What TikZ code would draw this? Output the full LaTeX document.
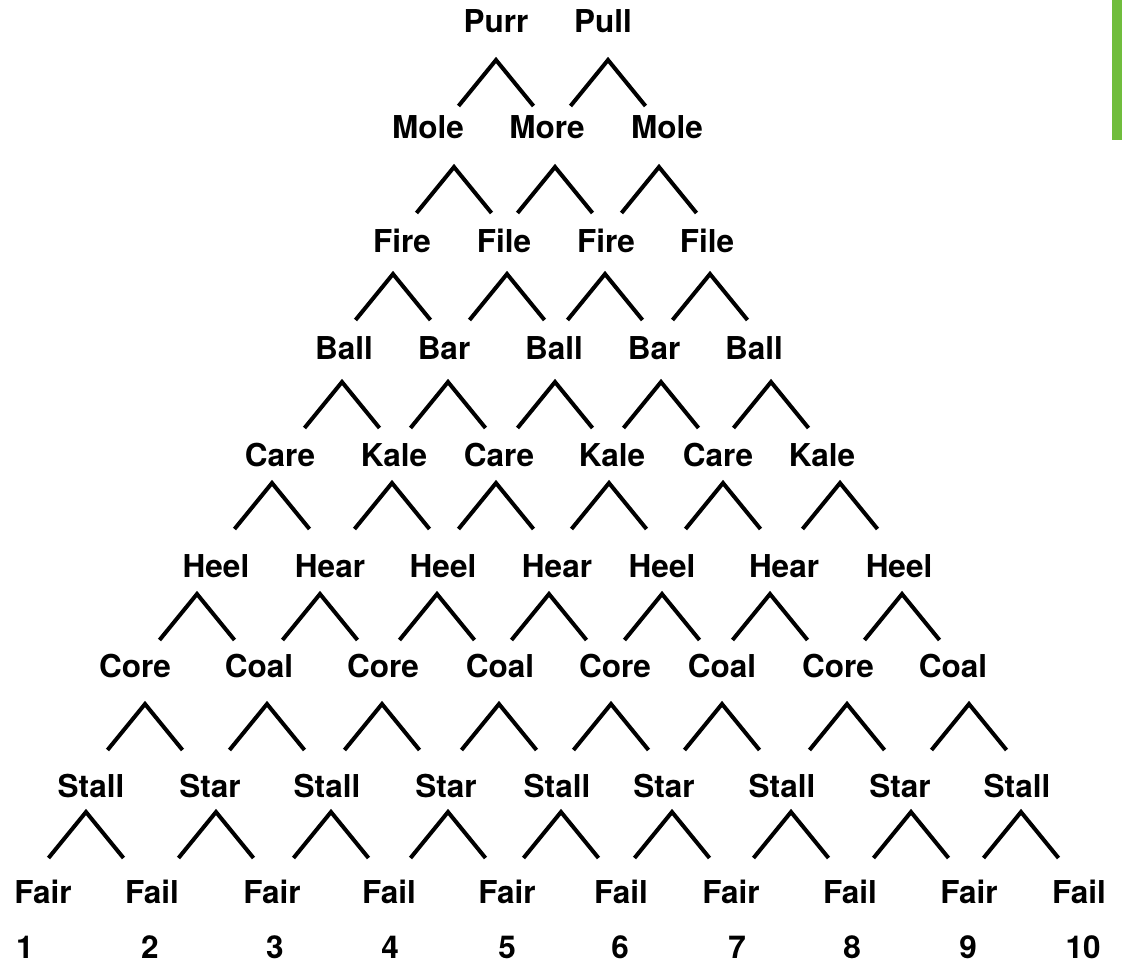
\documentclass[tikz,border=0pt]{standalone}
\usepackage{fontspec}
\setmainfont{TeX Gyre Heros}
\usepackage{tikz}
\usetikzlibrary{positioning}
\definecolor{tabgreen}{RGB}{112,189,60}

\begin{document}
\begin{tikzpicture}[x=0.5pt,y=-0.5pt,
		word/.style={anchor=base,inner sep=0pt,font=\fontsize{15.75}{18}\selectfont\bfseries},
		caret/.style={line width=2pt}]
	\useasboundingbox (0,0) rectangle (1122,963);
	\fill[tabgreen] (1112,0) rectangle (1122,140);
	\foreach \x/\w [count=\i] in {496/Purr,603/Pull}
		\node[word] (w0-\i) at (\x,33) {\w};
	\foreach \x/\w [count=\i] in {428/Mole,547/More,667/Mole}
		\node[word] (w1-\i) at (\x,138) {\w};
	\foreach \x/\w [count=\i] in {402/Fire,504/File,606/Fire,707/File}
		\node[word] (w2-\i) at (\x,252) {\w};
	\foreach \x/\w [count=\i] in {344/Ball,444/Bar,554/Ball,654/Bar,754/Ball}
		\node[word] (w3-\i) at (\x,359) {\w};
	\foreach \x/\w [count=\i] in {280/Care,394/Kale,499/Care,612/Kale,718/Care,822/Kale}
		\node[word] (w4-\i) at (\x,466) {\w};
	\foreach \x/\w [count=\i] in {216/Heel,330/Hear,443/Heel,557/Hear,662/Heel,784/Hear,899/Heel}
		\node[word] (w5-\i) at (\x,577) {\w};
	\foreach \x/\w [count=\i] in {135/Core,259/Coal,383/Core,500/Coal,615/Core,722/Coal,838/Core,953/Coal}
		\node[word] (w6-\i) at (\x,677) {\w};
	\foreach \x/\w [count=\i] in {91/Stall,210/Star,327/Stall,446/Star,557/Stall,664/Star,782/Stall,900/Star,1017/Stall}
		\node[word] (w7-\i) at (\x,797) {\w};
	\foreach \x/\w [count=\i] in {43/Fair,152/Fail,272/Fair,389/Fail,507/Fair,621/Fail,731/Fair,850/Fail,969/Fair,1079/Fail}
		\node[word] (w8-\i) at (\x,903) {\w};
	\foreach \x [count=\i] in {25,150,275,390,507,620,737,852,968,1083}
		\node[word] (n-\i) at (\x,958) {\i};
	\foreach \y/\xs in {60/{496,608},167/{454,555,659},274/{393,507,605,710},382/{342,448,555,661,771},
			483/{272,392,496,609,723,840},594/{197,320,437,549,662,770,902},704/{145,267,382,499,611,722,847,969},
			812/{86,216,331,448,561,672,791,911,1021}}
		\foreach \x in \xs
			\draw[caret] ({\x-37.5},{\y+46}) -- (\x,\y) -- ({\x+37.5},{\y+46});
\end{tikzpicture}
\end{document}
